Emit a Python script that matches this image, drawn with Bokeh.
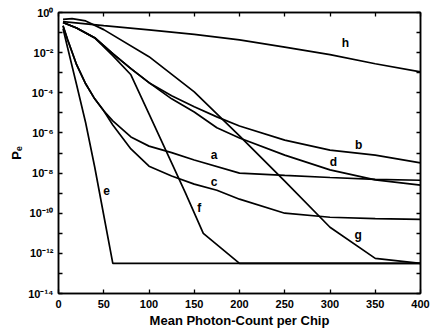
from bokeh.plotting import figure
from bokeh.models import (FixedTicker, CustomJSTickFormatter, LogAxis, LinearAxis,
                          Range1d, ColumnDataSource)
from bokeh.core.properties import value
from bokeh.embed import file_html
from bokeh.resources import INLINE

# ---- data (mean photon count, error probability) ----
photons_h = [5, 50, 100, 150, 200, 250, 300, 350, 400]
pe_h = [3.5e-1, 2.2e-1, 1.35e-1, 8.1e-2, 4.3e-2, 1.9e-2, 7.9e-3, 2.8e-3, 1.1e-3]

photons_g = [5, 15, 30, 50, 100, 150, 200, 250, 300, 350, 400]
pe_g = [4.5e-1, 5.0e-1, 3.8e-1, 1.4e-1, 6.3e-3, 1.12e-4, 7.1e-7, 4.0e-9, 2.0e-11, 5.6e-13, 3.2e-13]

photons_b = [5, 20, 40, 60, 80, 100, 125, 150, 175, 200, 250, 300, 350, 400]
pe_b = [3.2e-1, 1.7e-1, 5.6e-2, 8.9e-3, 1.6e-3, 3.2e-4, 7.1e-5, 2.0e-5, 6.3e-6, 2.2e-6,
        4.4e-7, 1.4e-7, 7.8e-8, 3.2e-8]

photons_d = [5, 20, 40, 60, 80, 100, 125, 150, 175, 200, 250, 300, 350, 400]
pe_d = [3.2e-1, 1.7e-1, 5.6e-2, 8.9e-3, 1.6e-3, 3.2e-4, 5.0e-5, 1.1e-5, 1.8e-6, 5.6e-7,
        7.8e-8, 1.45e-8, 4.6e-9, 2.5e-9]

photons_f = [5, 20, 40, 60, 80, 100, 125, 140, 160, 200, 400]
pe_f = [3.2e-1, 1.7e-1, 5.4e-2, 7.1e-3, 7.9e-4, 8.9e-6, 3.2e-8, 1.1e-9, 1.0e-11, 3.2e-13, 3.2e-13]

photons_e = [5, 10, 20, 30, 40, 50, 60, 400]
pe_e = [1.6e-1, 1.8e-2, 2.5e-4, 3.2e-6, 2.0e-8, 7.9e-11, 3.2e-13, 3.2e-13]

photons_a = [5, 10, 20, 30, 40, 50, 60, 80, 100, 125, 150, 200, 250, 300, 350, 400]
pe_a = [2.2e-1, 4.5e-2, 2.5e-3, 2.8e-4, 5.0e-5, 1.26e-5, 4.0e-6, 6.3e-7, 2.2e-7, 1.05e-7,
        4.5e-8, 1.0e-8, 7.6e-9, 6.0e-9, 4.9e-9, 4.4e-9]

photons_c = [5, 10, 20, 30, 40, 50, 60, 80, 100, 125, 150, 175, 200, 250, 300, 350, 400]
pe_c = [2.2e-1, 4.5e-2, 2.5e-3, 2.8e-4, 5.0e-5, 1.26e-5, 2.5e-6, 1.6e-7, 2.2e-8, 7.1e-9,
        2.8e-9, 1.4e-9, 5.0e-10, 1.0e-10, 6.3e-11, 5.4e-11, 4.9e-11]

curve_names = ["a", "b", "c", "d", "e", "f", "g", "h"]
# curve label anchors (data coordinates)
label_x = [172, 331.7, 172, 303.8, 53, 155.6, 331, 317]
label_y = [7.8e-8, 2.45e-7, 3.6e-9, 3.6e-8, 1.4e-9, 1.8e-10, 7.9e-12, 2.95e-2]

x_ticks = [0, 50, 100, 150, 200, 250, 300, 350, 400]
y_ticks = [1e0, 1e-1, 1e-2, 1e-3, 1e-4, 1e-5, 1e-6, 1e-7, 1e-8, 1e-9, 1e-10,
           1e-11, 1e-12, 1e-13, 1e-14]

FONT = "Liberation Sans"

p = figure(width=432, height=333, x_range=Range1d(0, 400), y_range=Range1d(1e-14, 1e0),
           y_axis_type="log", output_backend="svg", toolbar_location=None,
           min_border_left=58, min_border_right=12, min_border_top=12, min_border_bottom=40)
p.background_fill_color = "white"
p.border_fill_color = "white"
p.outline_line_color = "black"
p.outline_line_width = 1.5
p.grid.visible = False

series = [(photons_a, pe_a), (photons_b, pe_b), (photons_c, pe_c), (photons_d, pe_d),
          (photons_e, pe_e), (photons_f, pe_f), (photons_g, pe_g), (photons_h, pe_h)]
for xs, ys in series:
    p.line(xs, ys, line_color="black", line_width=1.7)

src = ColumnDataSource(dict(x=label_x, y=label_y, t=curve_names))
p.text(x="x", y="y", text="t", source=src, text_font=value(FONT), text_font_style="bold",
       text_font_size="12px", text_align="center", text_baseline="middle", text_color="black")

sup_js = """
const e = Math.round(Math.log10(tick));
if (e % 2 != 0) { return ""; }
const m = {"0":"\u2070","1":"\u00b9","2":"\u00b2","3":"\u00b3","4":"\u2074","5":"\u2075",
           "6":"\u2076","7":"\u2077","8":"\u2078","9":"\u2079","-":"\u207b"};
return "10" + String(e).split("").map(c => m[c]).join("");
"""
blank_js = 'return "";'

def style_axis(ax):
    ax.axis_line_color = "black"
    ax.axis_line_width = 1.5
    ax.major_tick_in = 4
    ax.major_tick_out = 0
    ax.major_tick_line_color = "black"
    ax.major_tick_line_width = 1.3
    ax.minor_tick_line_color = None
    ax.major_label_text_font = FONT
    ax.major_label_text_font_style = "bold"
    ax.major_label_text_font_size = "11px"
    ax.major_label_text_color = "black"
    ax.axis_label_text_font = FONT
    ax.axis_label_text_font_style = "bold"
    ax.axis_label_text_font_size = "13px"
    ax.axis_label_text_color = "black"

xax = p.xaxis[0]
xax.ticker = FixedTicker(ticks=x_ticks, minor_ticks=[])
xax.axis_label = "Mean Photon-Count per Chip"
style_axis(xax)
xax.major_label_standoff = 6
xax.axis_label_standoff = 2

yax = p.yaxis[0]
yax.ticker = FixedTicker(ticks=y_ticks, minor_ticks=[])
yax.formatter = CustomJSTickFormatter(code=sup_js)
yax.axis_label = "P\u2091"
style_axis(yax)
yax.major_label_standoff = 5
yax.axis_label_standoff = 1

rax = LogAxis(ticker=FixedTicker(ticks=y_ticks, minor_ticks=[]),
              formatter=CustomJSTickFormatter(code=blank_js), major_label_standoff=0)
style_axis(rax)
p.add_layout(rax, "right")

tax = LinearAxis(ticker=FixedTicker(ticks=x_ticks, minor_ticks=[]),
                 formatter=CustomJSTickFormatter(code=blank_js), major_label_standoff=0)
style_axis(tax)
p.add_layout(tax, "above")

with open("out.html", "w", encoding="utf-8") as f:
    f.write(file_html(p, INLINE))
